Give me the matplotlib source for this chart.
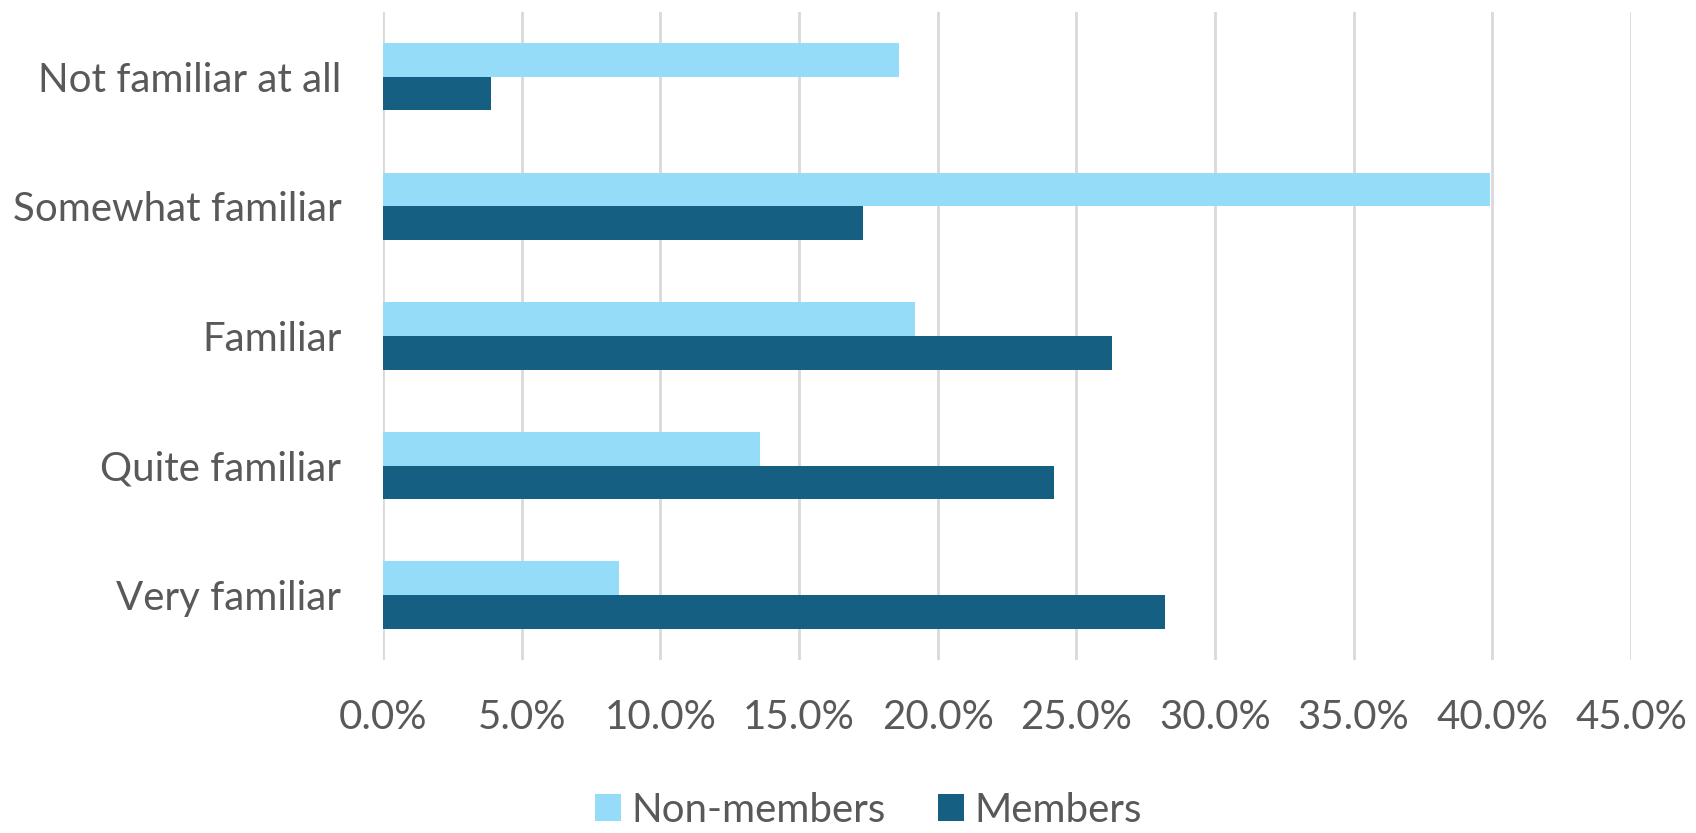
import numpy as np
import matplotlib
matplotlib.use('Agg')
import matplotlib.pyplot as plt
from matplotlib.ticker import FuncFormatter, MultipleLocator

categories = ['Not familiar at all', 'Somewhat familiar', 'Familiar', 'Quite familiar', 'Very familiar']
non_members = [18.6, 39.9, 19.2, 13.6, 8.5]
members = [3.9, 17.3, 26.3, 24.2, 28.2]
series_names = ['Non-members', 'Members']

c_light = '#94DCF8'
c_dark = '#156082'
c_text = '#595959'

plt.rcParams['font.family'] = ['Lato', 'DejaVu Sans']

fig = plt.figure(figsize=(16.96, 8.33), dpi=100)
ax = fig.add_axes([0.2258, 0.2077, 0.7359, 0.7779])

y = np.arange(len(categories))
h = 0.26
ax.barh(y - h/2, non_members, height=h, color=c_light, label=series_names[0], zorder=3)
ax.barh(y + h/2, members, height=h, color=c_dark, label=series_names[1], zorder=3)

ax.set_xlim(0, 45)
ax.set_ylim(len(categories) - 0.5, -0.5)
ax.xaxis.set_major_locator(MultipleLocator(5))
ax.xaxis.set_major_formatter(FuncFormatter(lambda v, p: '%.1f%%' % v))
ax.set_yticks(y)
ax.set_yticklabels(categories)

ax.grid(axis='x', color='#D9D9D9', linewidth=2, zorder=0)
for s in ax.spines.values():
    s.set_visible(False)
ax.tick_params(axis='both', length=0, labelsize=29, labelcolor=c_text)
ax.tick_params(axis='x', pad=28)
ax.tick_params(axis='y', pad=30)

fig.legend(loc='center', bbox_to_anchor=(0.512, 0.027), ncol=2, frameon=False,
           fontsize=29, labelcolor=c_text, handlelength=0.65, handleheight=0.65,
           handletextpad=0.25, columnspacing=1.3)

fig.savefig('out.png', dpi=100)
